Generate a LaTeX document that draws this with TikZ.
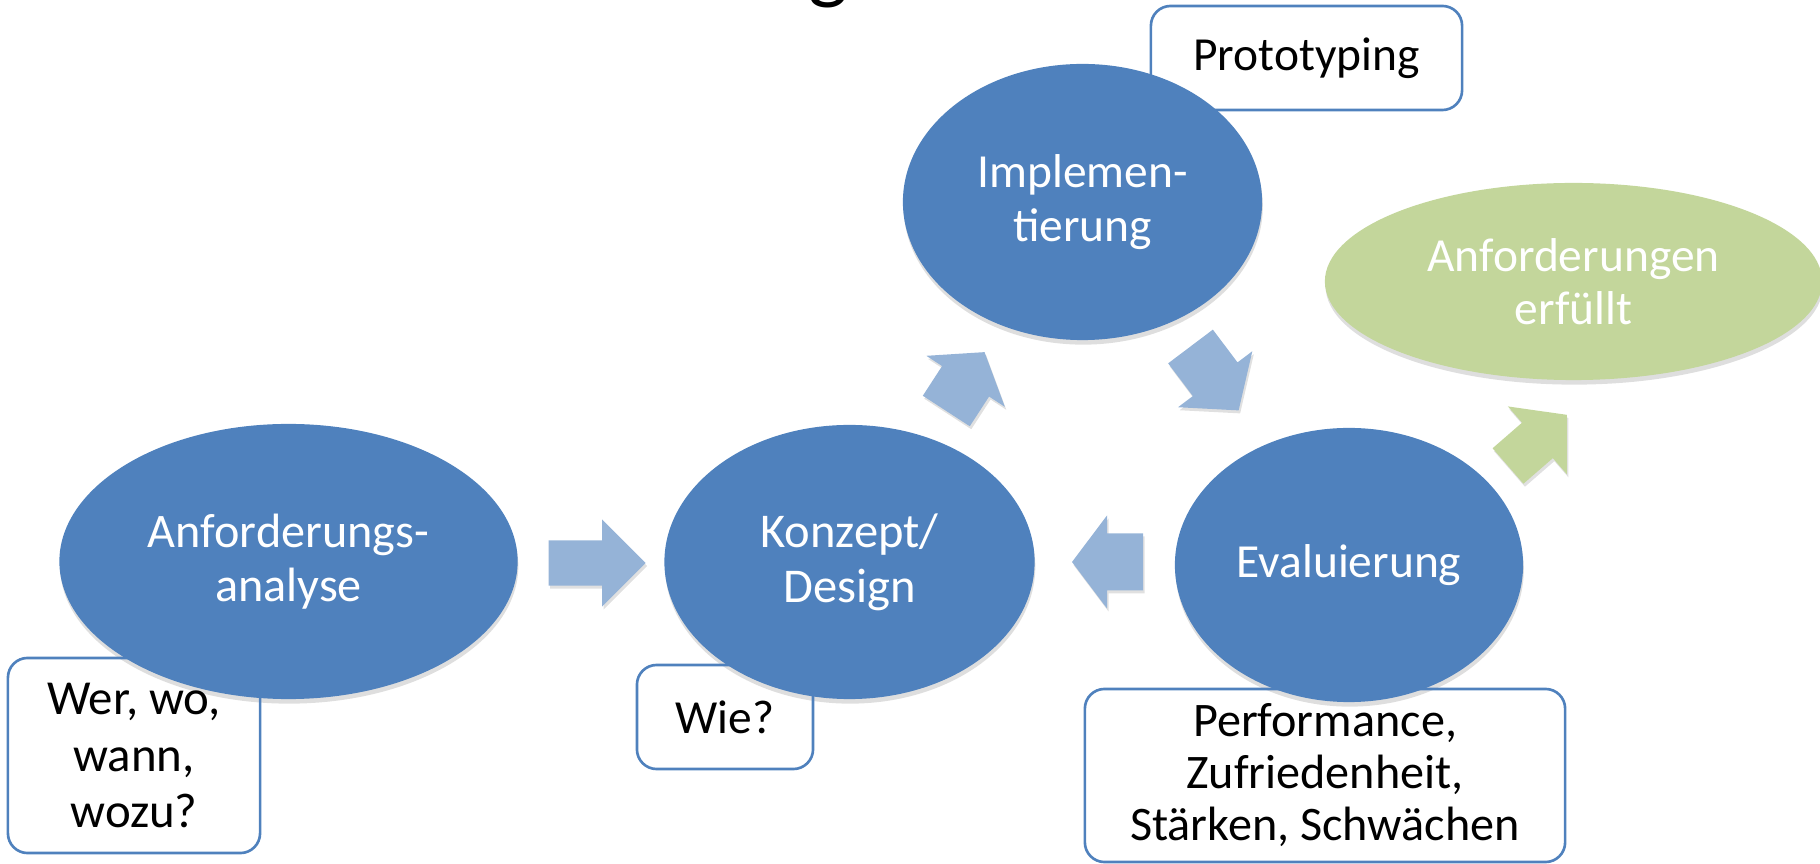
\documentclass[tikz,border=0pt]{standalone}
\usepackage{fontspec}
\setmainfont{Carlito}
\usetikzlibrary{shapes.geometric,shadows}
\definecolor{accblue}{HTML}{4F81BD}
\definecolor{arrblue}{HTML}{95B3D7}
\definecolor{accgreen}{HTML}{C3D69B}
% #1 tail point, #2 angle, #3 shaft length, #4 head length, #5 shaft half width, #6 head half width, #7 colour
\newcommand\blockarrow[7]{%
  \begin{scope}[shift={#1}, shift={(1.5,3)}, rotate=#2]
    \fill[black, opacity=0.12] (0,-#5) -- (#3,-#5) -- (#3,-#6) -- ({#3+#4},0) -- (#3,#6) -- (#3,#5) -- (0,#5) -- cycle;
  \end{scope}
  \begin{scope}[shift={#1}, rotate=#2]
    \fill[#7] (0,-#5) -- (#3,-#5) -- (#3,-#6) -- ({#3+#4},0) -- (#3,#6) -- (#3,#5) -- (0,#5) -- cycle;
  \end{scope}}
\begin{document}
\begin{tikzpicture}[x=0.01cm, y=-0.01cm,
  phase/.style={ellipse, fill=accblue, text=white, inner sep=0pt, align=center,
    font=\fontsize{13.5}{15.2}\selectfont,
    drop shadow={shadow xshift=0.2pt, shadow yshift=-1.3pt, opacity=0.13, fill=black}},
  goal/.style={phase, fill=accgreen},
  note/.style={draw=accblue, line width=0.75pt, rounded corners=5.6pt, align=center,
    inner sep=0pt, text=black, font=\fontsize{13.5}{15.9}\selectfont}]
\useasboundingbox (0,0) rectangle (1820,864);

% cut-off title letter
\node[anchor=south, inner sep=0pt, font=\fontsize{24}{24}\selectfont] (ttl) at (828.5,9) {g};

% phases
\node[phase, minimum width=4.58cm, minimum height=2.75cm, font=\fontsize{13.7}{15.5}\selectfont] (ana) at (288.5,561.5) {Anforderungs-\\analyse};
\node[phase, minimum width=3.70cm, minimum height=2.74cm, font=\fontsize{13.8}{15.6}\selectfont] (kon) at (849.5,562) {Konzept/\\Design};
\node[phase, minimum width=3.59cm, minimum height=2.76cm] (imp) at (1082.5,202) {Implemen-\\tierung};
\node[phase, minimum width=3.48cm, minimum height=2.74cm] (eva) at (1349,565) {Evaluierung};
\node[goal, minimum width=4.97cm, minimum height=1.97cm] (erf) at (1573.5,281.5) {Anforderungen\\erfüllt};

% block arrows
\blockarrow{(548.6,563)}{0}{53.4}{43.7}{22.7}{43.7}{arrblue}
\blockarrow{(946.3,411)}{57}{35.4}{34.8}{28}{46.8}{arrblue}
\blockarrow{(1190.5,346.5)}{-53}{41}{39}{28}{46.5}{arrblue}
\blockarrow{(1143,562)}{180}{36}{35}{28.5}{46.5}{arrblue}
\blockarrow{(1508,466)}{41}{39}{39}{23.5}{45}{accgreen}

% notes
\node[note, minimum width=2.52cm, minimum height=1.95cm, font=\fontsize{13.9}{16}\selectfont] (wer) at (134,755.5) {Wer, wo,\\wann,\\wozu?};
\node[note, minimum width=1.76cm, minimum height=1.04cm] (wie) at (725,717) {Wie?};
\node[note, minimum width=3.11cm, minimum height=1.04cm, font=\fontsize{13.5}{15}\selectfont] (pro) at (1306.5,58) {Prototyping};
\node[note, minimum width=4.80cm, minimum height=1.73cm, font=\fontsize{13.7}{14.8}\selectfont] (per) at (1325,775.5) {Performance,\\Zufriedenheit,\\Stärken, Schwächen};
\end{tikzpicture}
\end{document}
